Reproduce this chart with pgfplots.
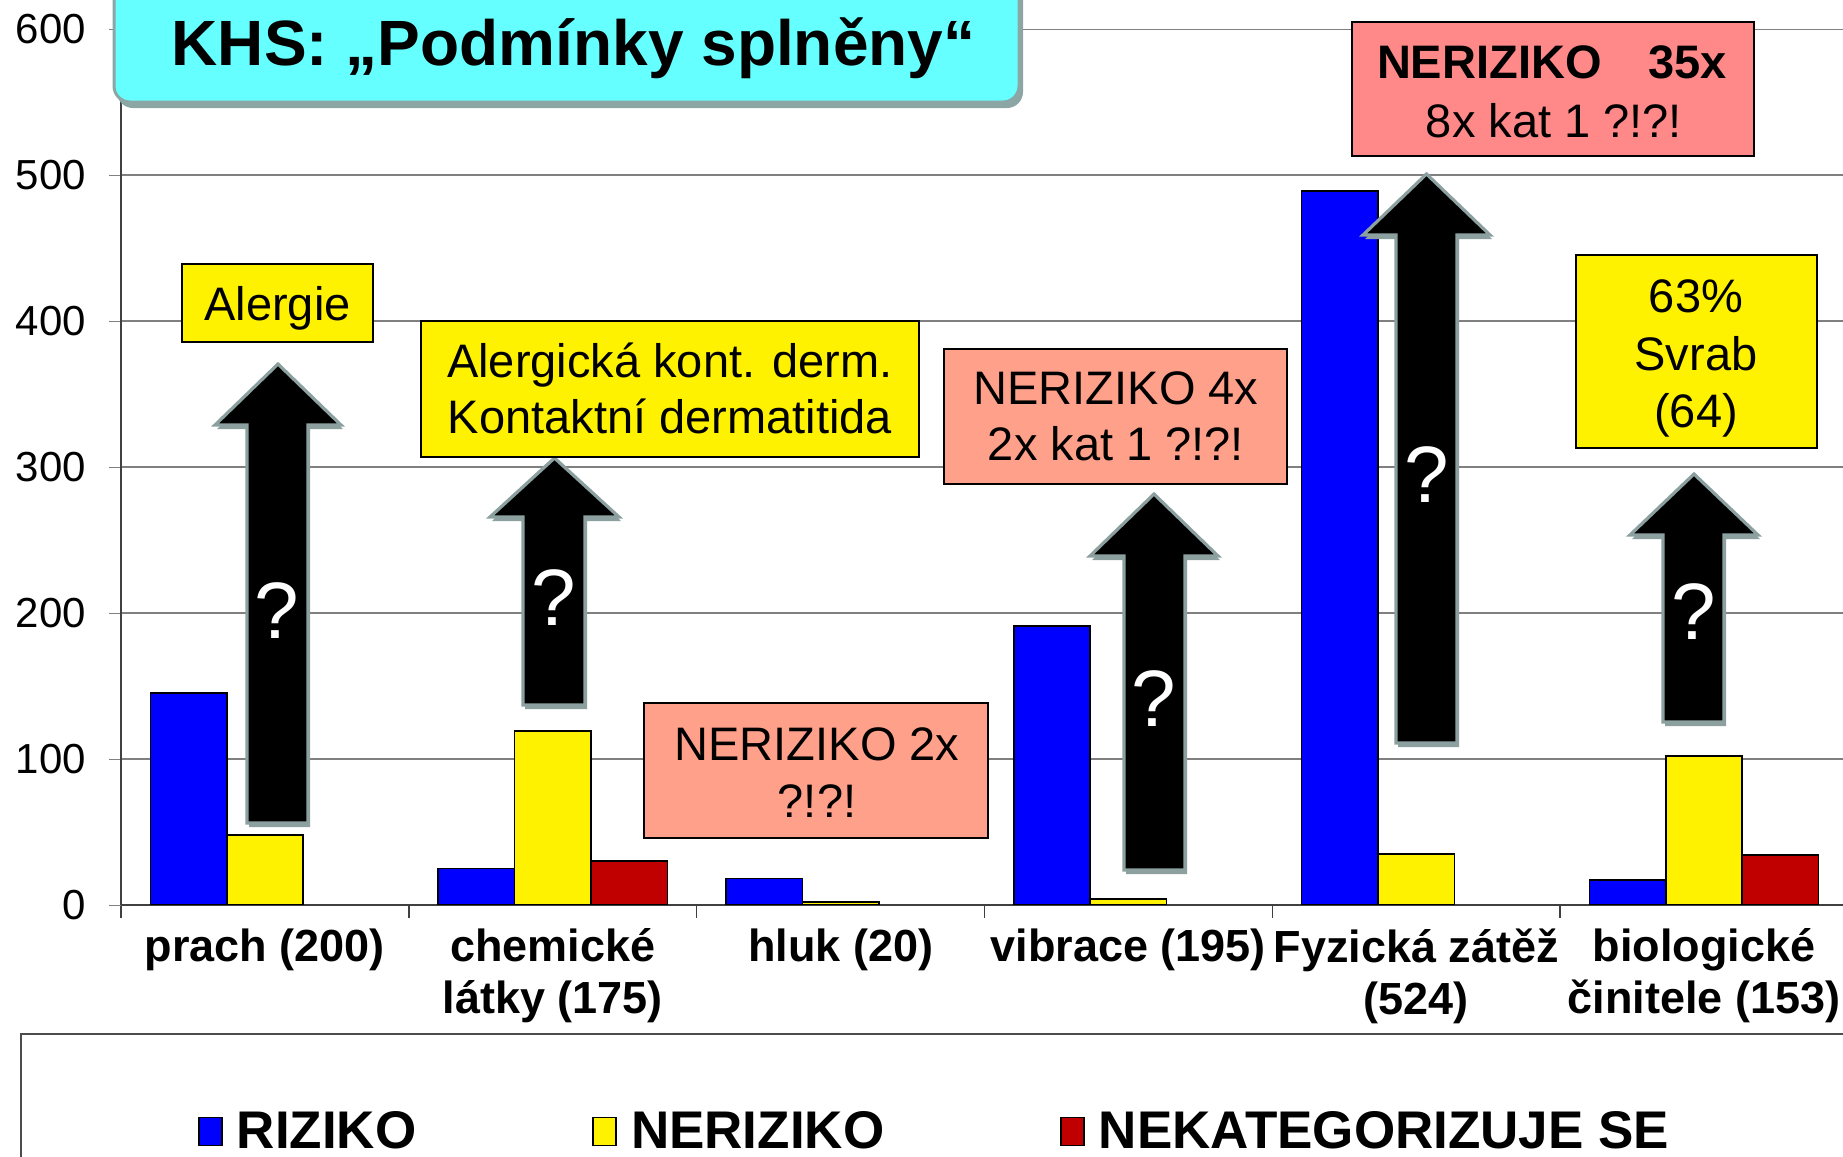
\documentclass[border=0pt]{standalone}
\usepackage{pgfplots}
\pgfplotsset{compat=1.18}
\usepackage{fontspec}
\setmainfont{Liberation Sans}
\definecolor{cyanbox}{RGB}{102,255,255}
\definecolor{titleborder}{RGB}{140,165,165}
\definecolor{arrowgray}{RGB}{140,160,160}
\definecolor{salmon}{RGB}{255,160,138}
\definecolor{pinkred}{RGB}{255,136,136}
\definecolor{darkred}{RGB}{192,0,0}
\definecolor{gridgray}{RGB}{128,128,128}
\newcommand{\fs}[2]{\fontsize{#1}{#2}\selectfont}
\begin{document}
\begin{tikzpicture}
\begin{scope}[x=0.5pt,y=-0.5pt]
\filldraw[fill=white, draw=black!70, line width=0.8pt] (21,1034) rectangle (1900,1300);
\end{scope}
\begin{axis}[
  at={(60.5pt,-452.4pt)}, anchor=south west,
  scale only axis, width=863.5pt, height=437.75pt,
  xmin=-0.5, xmax=5.5, ymin=0, ymax=600,
  axis x line*=bottom, axis y line*=left,
  axis line style={-, black!75, line width=0.8pt},
  ybar=0pt, bar width=38.2pt,
  ytick={0,100,...,600},
  ymajorgrids, grid style={gridgray, line width=0.8pt},
  xtick={0,...,5},
  xticklabels={prach (200), {chemické\\látky (175)}, hluk (20), vibrace (195), {Fyzická zátěž\\(524)}, {biologické\\činitele (153)}},
  x tick label style={font=\bfseries\fs{22.5}{25.8}, align=center, yshift=-2.5pt},
  minor xtick={-0.5,0.5,...,5.5},
  major x tick style={draw=none},
  minor x tick style={draw=black!75, line width=0.8pt},
  major tick length=6pt, minor tick length=6.5pt,
  tick align=outside,
  y tick label style={font=\fs{21}{25}, xshift=-8pt},
  /pgf/number format/assume math mode=true,
  legend columns=3,
  legend style={at={(0.0445,-0.259)}, anchor=west, draw=none, fill=none, inner sep=0pt,
    font=\bfseries\fs{26.5}{30},
    /tikz/every odd column/.append style={column sep=5pt},
    /tikz/every even column/.append style={column sep=86pt}},
  legend image code/.code={\draw[#1, draw=black, line width=0.8pt] (0pt,-7pt) rectangle (11.5pt,7pt);},
]
\addplot[fill=blue, draw=black, line width=0.8pt] coordinates {(0,145) (1,25) (2,18) (3,191) (4,489) (5,17)};
\addplot[fill=yellow, draw=black, line width=0.8pt] coordinates {(0,48) (1,119) (2,2) (3,4) (4,35) (5,102)};
\addplot[fill=darkred, draw=black, line width=0.8pt] coordinates {(1,30) (5,34)};
\legend{RIZIKO, NERIZIKO, NEKATEGORIZUJE SE}
\end{axis}
\begin{scope}[x=0.5pt,y=-0.5pt]
% title box
\fill[titleborder, rounded corners=8pt] (117,-20) rectangle (1023,108);
\filldraw[fill=cyanbox, draw=titleborder, line width=1.5pt, rounded corners=8pt] (114,-20) rectangle (1019,102);
\node[anchor=base, font=\bfseries\fs{32}{36}] at (573.5,65) {KHS: „Podmínky splněny“};
% arrows
\foreach \sl/\sr/\bot/\hb/\hl/\hr/\tip in {247/308/823/425/215/341/364, 523/585/705/517/490/619/458, 1124/1185/870/556/1090/1218/494, 1396/1457/743/235/1363/1490/174, 1663/1724/722/535/1630/1758/474}{
  \pgfmathsetmacro{\tx}{(\hl+\hr)/2}
  \fill[arrowgray, shift={(2,4)}] (\sl,\bot) -- (\sr,\bot) -- (\sr,\hb) -- (\hr,\hb) -- (\tx,\tip) -- (\hl,\hb) -- (\sl,\hb) -- cycle;
  \filldraw[fill=black, draw=arrowgray, line width=1.6pt] (\sl,\bot) -- (\sr,\bot) -- (\sr,\hb) -- (\hr,\hb) -- (\tx,\tip) -- (\hl,\hb) -- (\sl,\hb) -- cycle;
}
\node[text=white, font=\fs{40}{44}] at (277,611) {?};
\node[text=white, font=\fs{40}{44}] at (554,598) {?};
\node[text=white, font=\fs{40}{44}] at (1154,699) {?};
\node[text=white, font=\fs{40}{44}] at (1427,475) {?};
\node[text=white, font=\fs{40}{44}] at (1694,612) {?};
% boxes
\filldraw[fill=yellow, draw=black, line width=0.9pt] (182,264) rectangle (373,342);
\node[anchor=base, font=\fs{23.5}{28}] at (277.5,320) {Alergie};
\filldraw[fill=yellow, draw=black, line width=0.9pt] (421,321) rectangle (919,457);
\node[anchor=base, font=\fs{23.5}{28}] at (670,377) {Alergická kont. derm.};
\node[anchor=base, font=\fs{23.5}{28}] at (670,433) {Kontaktní dermatitida};
\filldraw[fill=salmon, draw=black, line width=0.9pt] (944,349) rectangle (1287,484);
\node[anchor=base, font=\fs{23.5}{28}] at (1116,404) {NERIZIKO 4x};
\node[anchor=base, font=\fs{23.5}{28}] at (1116,460) {2x kat 1 ?!?!};
\filldraw[fill=pinkred, draw=black, line width=0.9pt] (1352,22) rectangle (1754,156);
\node[anchor=base, font=\bfseries\fs{23.5}{28}] at (1552,78) {NERIZIKO\quad 35x};
\node[anchor=base, font=\fs{23.5}{28}] at (1554,137) {8x kat 1 ?!?!};
\filldraw[fill=yellow, draw=black, line width=0.9pt] (1576,255) rectangle (1817,448);
\node[anchor=base, font=\fs{23.5}{28}] at (1696,312) {63\%};
\node[anchor=base, font=\fs{23.5}{28}] at (1696,370) {Svrab};
\node[anchor=base, font=\fs{23.5}{28}] at (1696,427) {(64)};
\filldraw[fill=salmon, draw=black, line width=0.9pt] (644,703) rectangle (988,838);
\node[anchor=base, font=\fs{23.5}{28}] at (817,760) {NERIZIKO 2x};
\node[anchor=base, font=\fs{23.5}{28}] at (817,817) {?!?!};
\pgfresetboundingbox
\path[use as bounding box] (0,0) rectangle (1843,1157);
\end{scope}
\end{tikzpicture}
\end{document}
